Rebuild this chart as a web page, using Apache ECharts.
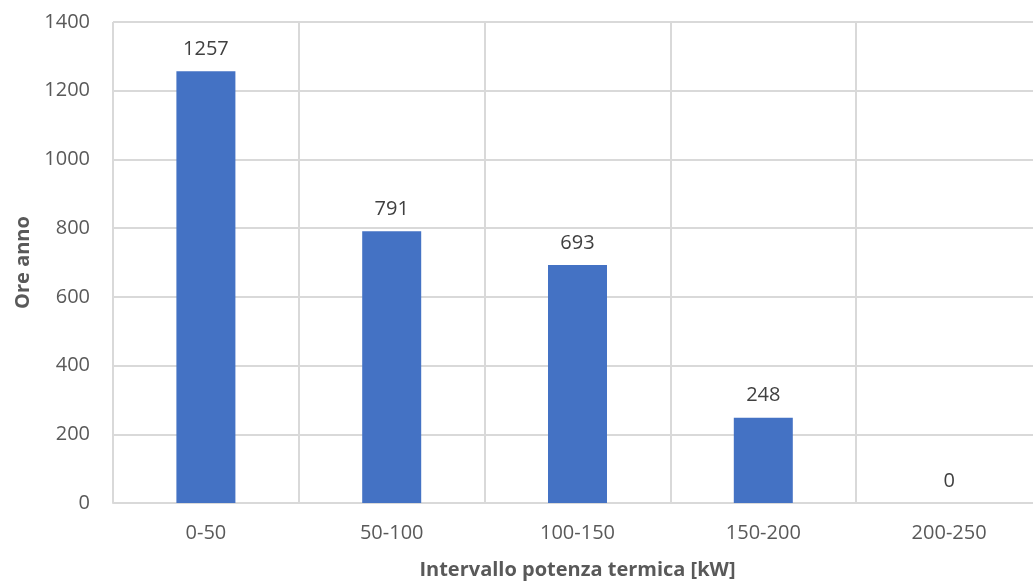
<!DOCTYPE html>
<html><head><meta charset="utf-8">
<script src="https://cdn.jsdelivr.net/npm/echarts@6/dist/echarts.min.js"></script>
<style>html,body{margin:0;padding:0;background:#fff}#c{width:1033px;height:582px}</style>
</head><body><div id="c"></div>
<script>
const categories = ['0-50', '50-100', '100-150', '150-200', '200-250'];
const values = [1257, 791, 693, 248, 0];
const yTicks = [0, 200, 400, 600, 800, 1000, 1200, 1400];

const chart = echarts.init(document.getElementById('c'));
const font = "'Open Sans', 'Liberation Sans', sans-serif";
chart.setOption({
  animation: false,
  grid: { left: 113, width: 929, top: 22, bottom: 79, outerBoundsMode: 'none', containLabel: false },
  xAxis: {
    type: 'category', data: categories,
    name: 'Intervallo potenza termica [kW]', nameLocation: 'middle', nameGap: 57,
    nameTextStyle: { fontFamily: font, fontSize: 20, fontWeight: 'bold', color: '#595959' },
    axisLine: { lineStyle: { color: '#d9d9d9', width: 2 } },
    axisTick: { show: false },
    splitLine: { show: true, lineStyle: { color: '#d9d9d9', width: 2 } },
    axisLabel: { fontFamily: font, fontSize: 20, color: '#595959', margin: 20 }
  },
  yAxis: {
    type: 'value', min: yTicks[0], max: yTicks[yTicks.length - 1], interval: 200,
    name: 'Ore anno', nameLocation: 'middle', nameGap: 80, nameRotate: 90,
    nameTextStyle: { fontFamily: font, fontSize: 20, fontWeight: 'bold', color: '#595959' },
    axisLine: { show: false }, axisTick: { show: false },
    splitLine: { lineStyle: { color: '#d9d9d9', width: 2 } },
    axisLabel: { fontFamily: font, fontSize: 20, color: '#595959', margin: 23, formatter: v => String(v) }
  },
  series: [{
    type: 'bar', data: values, barWidth: 59,
    itemStyle: { color: '#4472c4' },
    label: { show: true, position: 'top', distance: 12, fontFamily: font, fontSize: 20, color: '#404040' }
  }]
});
</script></body></html>
